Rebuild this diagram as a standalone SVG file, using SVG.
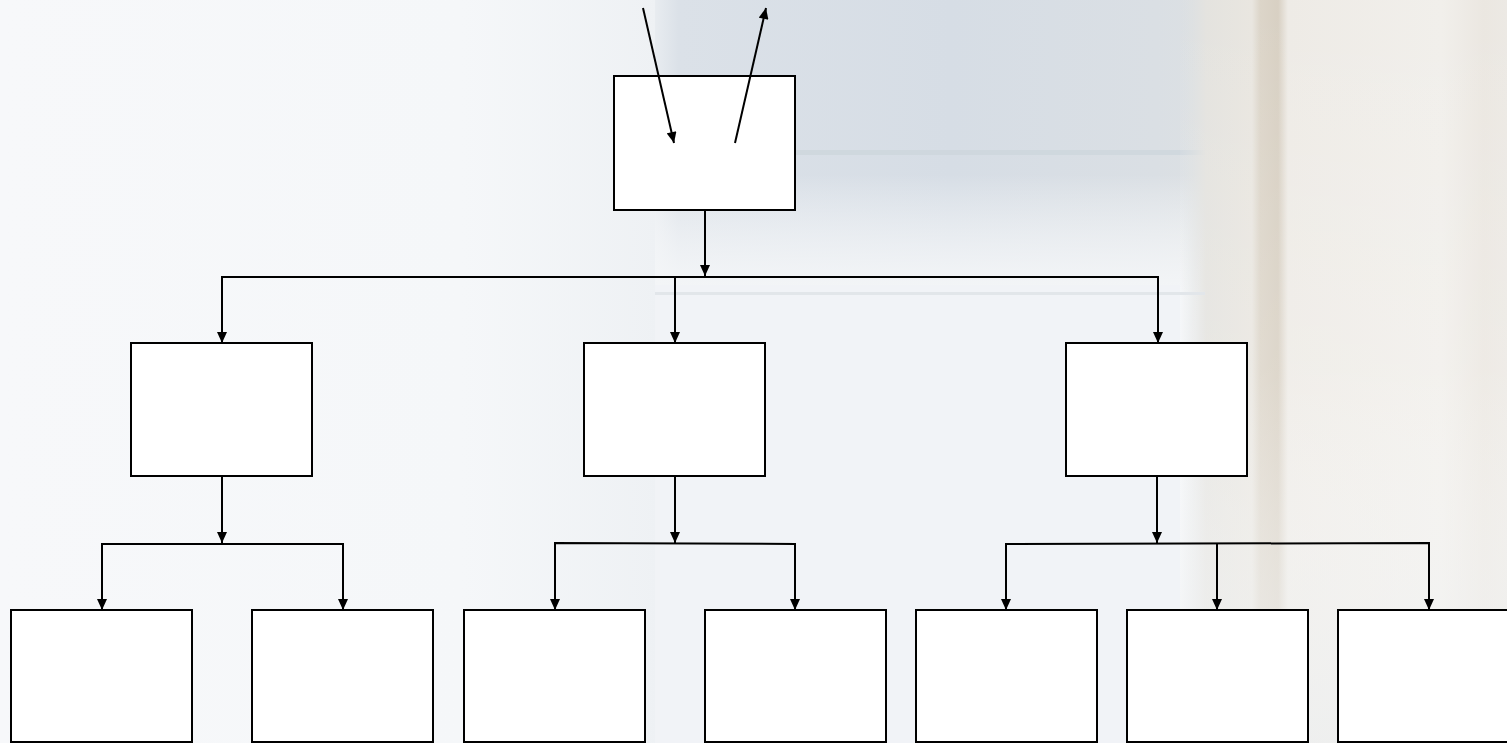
<svg xmlns="http://www.w3.org/2000/svg" width="1507" height="743" viewBox="0 0 1507 743">
<style>
.box{fill:#ffffff;stroke:#000000;stroke-width:2}
.c{fill:none;stroke:#000000;stroke-width:2}
</style>
<defs>
<marker id="ah" markerUnits="userSpaceOnUse" markerWidth="12" markerHeight="10" refX="11" refY="5" orient="auto" viewBox="0 0 11 10">
<path d="M0,0 L11,5 L0,10 Z" fill="#000"/>
</marker>
<linearGradient id="mid" x1="0" y1="0" x2="1" y2="0">
<stop offset="0" stop-color="#e8ecf0"/>
<stop offset="0.04" stop-color="#dbe1e8"/>
<stop offset="0.5" stop-color="#d6dde5"/>
<stop offset="0.85" stop-color="#dadfe4"/>
<stop offset="1" stop-color="#dee1e2"/>
</linearGradient>
<linearGradient id="fadeDown" x1="0" y1="0" x2="0" y2="1">
<stop offset="0" stop-color="#fff" stop-opacity="0"/>
<stop offset="0.6" stop-color="#fff" stop-opacity="0"/>
<stop offset="1" stop-color="#f3f5f7" stop-opacity="1"/>
</linearGradient>
<linearGradient id="right" x1="0" y1="0" x2="1" y2="0">
<stop offset="0" stop-color="#dee1e2" stop-opacity="0"/>
<stop offset="0.08" stop-color="#e4e3df"/>
<stop offset="0.22" stop-color="#e9e6e0"/>
<stop offset="0.245" stop-color="#dcd5c9"/>
<stop offset="0.3" stop-color="#d8d0c3"/>
<stop offset="0.33" stop-color="#eeebe6"/>
<stop offset="0.8" stop-color="#f1efeb"/>
<stop offset="0.93" stop-color="#ebe7e1"/>
<stop offset="1" stop-color="#ece9e4"/>
</linearGradient>
<linearGradient id="rightFade" x1="0" y1="0" x2="0" y2="1">
<stop offset="0" stop-color="#fff" stop-opacity="0"/>
<stop offset="0.5" stop-color="#fff" stop-opacity="0.15"/>
<stop offset="1" stop-color="#eef0f1" stop-opacity="0.75"/>
</linearGradient>
<linearGradient id="leftFade" x1="0" y1="0" x2="1" y2="0">
<stop offset="0" stop-color="#f7f8fa"/>
<stop offset="0.7" stop-color="#f5f7f9"/>
<stop offset="1" stop-color="#eef1f4"/>
</linearGradient>
</defs>
<g id="background">
<rect x="0" y="0" width="1507" height="743" fill="#f4f6f8"/>
<rect x="0" y="0" width="660" height="743" fill="url(#leftFade)"/>
<rect x="655" y="0" width="590" height="290" fill="url(#mid)"/>
<rect x="655" y="0" width="590" height="290" fill="url(#fadeDown)"/>
<rect x="655" y="150" width="560" height="5" fill="#cdd6dc" opacity="0.8"/>
<rect x="1180" y="0" width="327" height="743" fill="url(#right)"/>
<rect x="1180" y="0" width="327" height="743" fill="url(#rightFade)"/>
<rect x="655" y="285" width="525" height="458" fill="#f1f3f6" opacity="0.9"/>
<rect x="655" y="292" width="550" height="3" fill="#e2e6ea"/>
</g>
<g id="n-top"><rect class="box" x="614" y="76" width="181" height="134"/></g>
<g id="n-mid1"><rect class="box" x="131" y="343" width="181" height="133"/></g>
<g id="n-mid2"><rect class="box" x="584" y="343" width="181" height="133"/></g>
<g id="n-mid3"><rect class="box" x="1066" y="343" width="181" height="133"/></g>
<g id="n-b1"><rect class="box" x="11" y="610" width="181" height="132"/></g>
<g id="n-b2"><rect class="box" x="252" y="610" width="181" height="132"/></g>
<g id="n-b3"><rect class="box" x="464" y="610" width="181" height="132"/></g>
<g id="n-b4"><rect class="box" x="705" y="610" width="181" height="132"/></g>
<g id="n-b5"><rect class="box" x="916" y="610" width="181" height="132"/></g>
<g id="n-b6"><rect class="box" x="1127" y="610" width="181" height="132"/></g>
<g id="n-b7"><rect class="box" x="1338" y="610" width="181" height="132"/></g>
<g id="connectors">
<line class="c" x1="643" y1="8" x2="674" y2="143" marker-end="url(#ah)"/>
<line class="c" x1="735" y1="143" x2="766" y2="8" marker-end="url(#ah)"/>
<line class="c" x1="705" y1="210" x2="705" y2="276" marker-end="url(#ah)"/>
<polyline class="c" points="222,343 222,277 1158,277 1158,343" marker-end="url(#ah)"/>
<line class="c" x1="222" y1="277" x2="222" y2="343" marker-end="url(#ah)"/>
<line class="c" x1="675" y1="277" x2="675" y2="343" marker-end="url(#ah)"/>
<line class="c" x1="222" y1="476" x2="222" y2="543" marker-end="url(#ah)"/>
<polyline class="c" points="102,610 102,544 343,544 343,610" marker-end="url(#ah)"/>
<line class="c" x1="102" y1="544" x2="102" y2="610" marker-end="url(#ah)"/>
<line class="c" x1="675" y1="476" x2="675" y2="543" marker-end="url(#ah)"/>
<polyline class="c" points="555,610 555,543 795,544 795,610" marker-end="url(#ah)"/>
<line class="c" x1="555" y1="543" x2="555" y2="610" marker-end="url(#ah)"/>
<line class="c" x1="1157" y1="476" x2="1157" y2="543" marker-end="url(#ah)"/>
<polyline class="c" points="1006,610 1006,544 1429,543 1429,610" marker-end="url(#ah)"/>
<line class="c" x1="1006" y1="544" x2="1006" y2="610" marker-end="url(#ah)"/>
<line class="c" x1="1217" y1="544" x2="1217" y2="610" marker-end="url(#ah)"/>
</g>
</svg>
